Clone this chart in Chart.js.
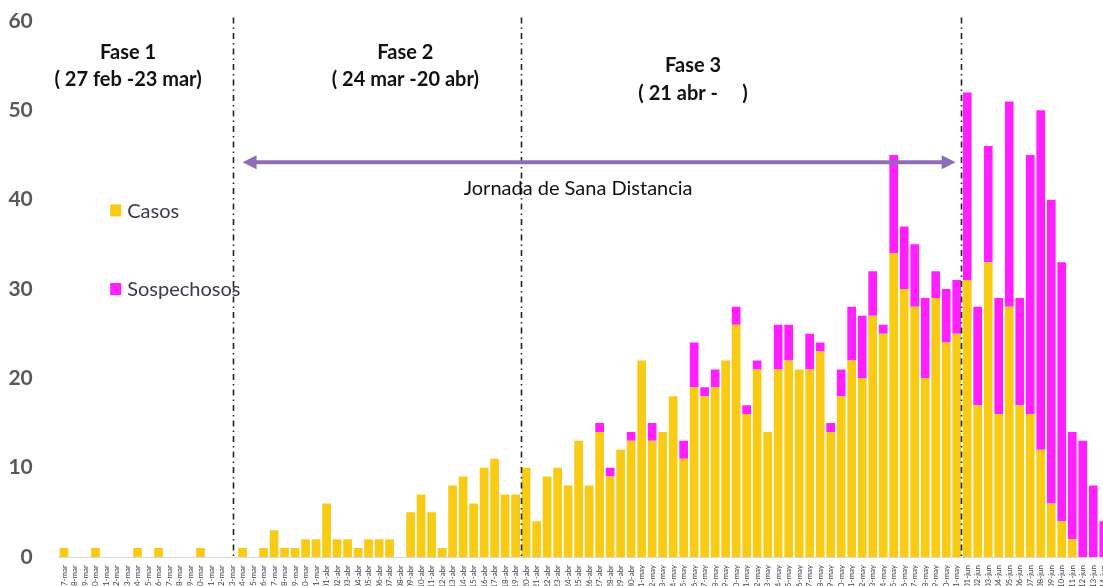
<!DOCTYPE html>
<html><head><meta charset="utf-8">
<script src="https://cdn.jsdelivr.net/npm/chart.js@4"></script>
<style>html,body{margin:0;padding:0;background:#fff;overflow:hidden}#wrap{position:absolute;left:0;top:0;width:1109px;height:590px}</style>
</head><body><div id="wrap"><canvas id="c" width="1109" height="590"></canvas></div>
<script>
// categories: 07-mar .. 14-jun
const monthSpans = [['mar',7,31],['abr',1,30],['may',1,31],['jun',1,14]];
const categories = [];
for (const [m,a,b] of monthSpans) for (let d=a; d<=b; d++) categories.push(String(d).padStart(2,'0')+'-'+m);

const casos = [1,0,0,1,0,0,0,1,0,1,0,0,0,1,0,0,0,
  1,0,1,3,1,1,2,2,6,2,2,1,2,2,2,0,5,7,5,1,8,9,6,10,11,7,7,
  10,4,9,10,8,13,8,14,9,12,13,22,13,14,18,11,19,18,19,22,26,16,21,14,21,22,21,21,23,14,18,22,20,27,25,34,30,28,20,29,24,25,
  31,17,33,16,28,17,16,12,6,4,2,0,0,0];
const sospechosos = [0,0,0,0,0,0,0,0,0,0,0,0,0,0,0,0,0,
  0,0,0,0,0,0,0,0,0,0,0,0,0,0,0,0,0,0,0,0,0,0,0,0,0,0,0,
  0,0,0,0,0,0,0,1,1,0,1,0,2,0,0,2,5,1,2,0,2,1,1,0,5,4,0,4,1,1,3,6,7,5,1,11,7,7,9,3,6,6,
  21,11,13,13,23,12,29,38,34,29,12,13,8,4];
const seriesNames = ['Casos','Sospechosos'];
const seriesColors = ['#F9CB14','#FF1FFF'];
const yTicks = [0,10,20,30,40,50,60];

// annotations (in data units: category index, value)
const phaseLines = [16.1, 43.5, 85.4];
const phaseTexts = [
  {t:'Fase 1', x:6.1, y:56.5}, {t:'( 27 feb -23 mar)', x:6.1, y:53.5},
  {t:'Fase 2', x:32.5, y:56.5}, {t:'( 24 mar -20 abr)', x:32.5, y:53.5},
  {t:'Fase 3', x:59.9, y:55.0}, {t:'( 21 abr -     )', x:59.9, y:51.9}
];
const arrow = {from:17.0, to:84.9, y:44.2, label:'Jornada de Sana Distancia', lx:48.95, ly:41.3};
const legendPos = {x:4.4, y:[38.8, 30.0]};

const annot = {
  id:'annot',
  afterDatasetsDraw(chart){
    const ctx = chart.ctx, xs = chart.scales.x, ys = chart.scales.y;
    ctx.save();
    // dash-dot lines
    ctx.strokeStyle = '#222'; ctx.lineWidth = 1.6; ctx.setLineDash([6,4,1.5,4]);
    for (const v of phaseLines){
      const px = Math.round(xs.getPixelForValue(v))+0.5;
      ctx.beginPath(); ctx.moveTo(px, ys.getPixelForValue(60.4)); ctx.lineTo(px, ys.getPixelForValue(0)); ctx.stroke();
    }
    ctx.setLineDash([]);
    // arrow
    const ay = ys.getPixelForValue(arrow.y), ax1 = xs.getPixelForValue(arrow.from), ax2 = xs.getPixelForValue(arrow.to);
    ctx.strokeStyle = '#8D6DB8'; ctx.fillStyle = '#8D6DB8'; ctx.lineWidth = 4;
    ctx.beginPath(); ctx.moveTo(ax1+10, ay); ctx.lineTo(ax2-10, ay); ctx.stroke();
    ctx.beginPath(); ctx.moveTo(ax1, ay); ctx.lineTo(ax1+14, ay-7); ctx.lineTo(ax1+14, ay+7); ctx.closePath(); ctx.fill();
    ctx.beginPath(); ctx.moveTo(ax2, ay); ctx.lineTo(ax2-14, ay-7); ctx.lineTo(ax2-14, ay+7); ctx.closePath(); ctx.fill();
    // texts
    ctx.textAlign = 'center'; ctx.textBaseline = 'middle'; ctx.fillStyle = '#111';
    ctx.font = 'bold 20px Lato';
    for (const p of phaseTexts) ctx.fillText(p.t, xs.getPixelForValue(p.x), ys.getPixelForValue(p.y));
    ctx.font = '20px Lato';
    ctx.fillText(arrow.label, xs.getPixelForValue(arrow.lx), ys.getPixelForValue(arrow.ly));
    // legend
    ctx.textAlign = 'left'; ctx.font = '20px Lato';
    const lx = xs.getPixelForValue(legendPos.x);
    seriesNames.forEach((n,i)=>{
      const py = ys.getPixelForValue(legendPos.y[i]);
      ctx.fillStyle = seriesColors[i]; ctx.fillRect(lx, py-6, 11, 12);
      ctx.fillStyle = '#3a3a4a'; ctx.fillText(n, lx+17, py+1);
    });
    ctx.restore();
  }
};

new Chart(document.getElementById('c'), {
  type:'bar',
  data:{labels:categories, datasets:[
    {label:seriesNames[0], data:casos, backgroundColor:seriesColors[0], barPercentage:0.83, categoryPercentage:1.0},
    {label:seriesNames[1], data:sospechosos, backgroundColor:seriesColors[1], barPercentage:0.83, categoryPercentage:1.0}
  ]},
  options:{
    responsive:false, animation:false,
    layout:{padding:{top:21,left:0,right:0,bottom:0}},
    plugins:{legend:{display:false}, tooltip:{enabled:false}},
    scales:{
      x:{stacked:true, grid:{display:false}, border:{display:true,color:'#d9d9d9',width:1},
         ticks:{autoSkip:false, minRotation:90, maxRotation:90, padding:0, color:'#444', font:{family:'Lato', size:8}},
         afterFit(s){ s.height = 33; s.paddingLeft = 0; s.paddingRight = 0; }},
      y:{stacked:true, min:0, max:60, grid:{display:false}, border:{display:false},
         afterBuildTicks(s){ s.ticks = yTicks.map(v=>({value:v})); },
         ticks:{padding:18, color:'#595959', font:{family:'Lato', size:21, weight:'bold'}},
         afterFit(s){ s.width = 58.75; s.paddingTop = 0; s.paddingBottom = 0; }}
    }
  },
  plugins:[annot]
});
</script></body></html>
